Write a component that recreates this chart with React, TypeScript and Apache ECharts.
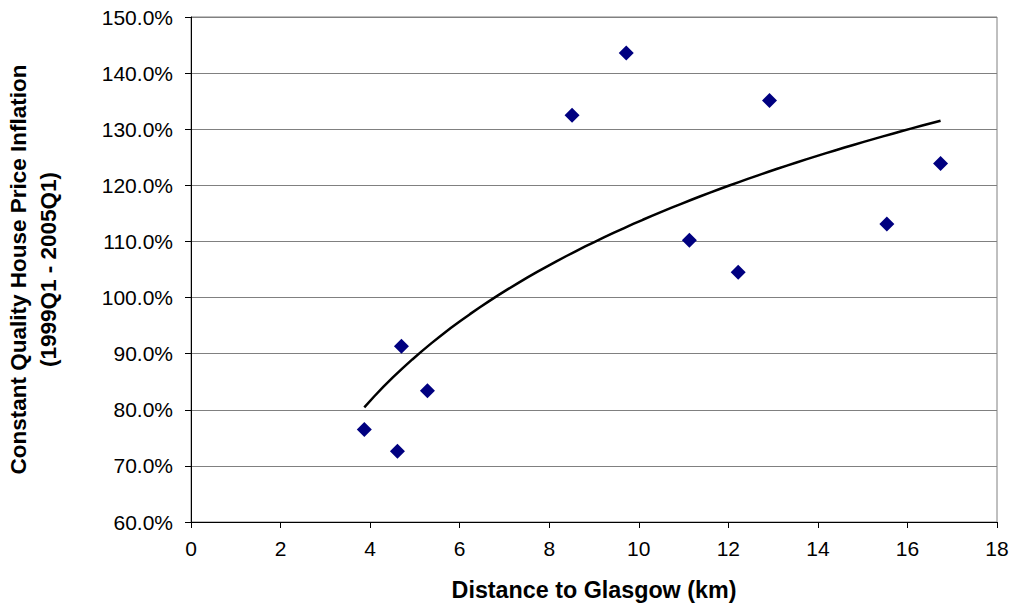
import React, { useEffect, useRef } from "react";
import * as echarts from "echarts";

const distanceKm = [3.87, 4.61, 4.7, 5.28, 8.51, 9.72, 11.13, 12.22, 12.92, 15.54, 16.74];
const inflationPct = [76.5, 72.6, 91.3, 83.4, 132.5, 143.6, 110.2, 104.5, 135.1, 113.1, 123.9];
const xTicks = [0, 2, 4, 6, 8, 10, 12, 14, 16, 18];
const yTicks = [60, 70, 80, 90, 100, 110, 120, 130, 140, 150];

// Logarithmic least-squares trendline fitted to the data (as in the original spreadsheet chart)
function logTrend(xs: number[], ys: number[], steps: number) {
  const lx = xs.map((v) => Math.log(v));
  const n = xs.length;
  const mx = lx.reduce((a, b) => a + b, 0) / n;
  const my = ys.reduce((a, b) => a + b, 0) / n;
  let sxy = 0;
  let sxx = 0;
  for (let i = 0; i < n; i++) {
    sxy += (lx[i] - mx) * (ys[i] - my);
    sxx += (lx[i] - mx) * (lx[i] - mx);
  }
  const b = sxy / sxx;
  const a = my - b * mx;
  const x0 = Math.min(...xs);
  const x1 = Math.max(...xs);
  const pts: number[][] = [];
  for (let i = 0; i <= steps; i++) {
    const x = x0 + ((x1 - x0) * i) / steps;
    pts.push([x, a + b * Math.log(x)]);
  }
  return pts;
}

export default function App() {
  const ref = useRef<HTMLDivElement>(null);
  useEffect(() => {
    if (!ref.current) return;
    const chart = echarts.init(ref.current, null, { renderer: "svg" });
    const font = "'Liberation Sans', Arial, sans-serif";
    chart.setOption({
      animation: false,
      backgroundColor: "#ffffff",
      grid: {
        left: 191,
        right: 16,
        top: 17,
        bottom: 85,
        show: true,
        borderColor: "#808080",
        borderWidth: 1,
        containLabel: false,
        outerBoundsMode: "none",
      },
      xAxis: {
        type: "value",
        min: xTicks[0],
        max: xTicks[xTicks.length - 1],
        interval: 2,
        name: "Distance to Glasgow (km)",
        nameLocation: "middle",
        nameGap: 56,
        nameTextStyle: { fontFamily: font, fontSize: 23.3, fontWeight: "bold", color: "#000", verticalAlign: "top" },
        axisLine: { show: true, onZero: false, lineStyle: { color: "#000", width: 1 } },
        axisTick: { show: true, inside: false, length: 6, lineStyle: { color: "#000" } },
        axisLabel: { fontFamily: font, fontSize: 21, color: "#000", margin: 16 },
        splitLine: { show: false },
      },
      yAxis: {
        type: "value",
        min: yTicks[0],
        max: yTicks[yTicks.length - 1],
        interval: 10,
        name: "Constant Quality House Price Inflation\n(1999Q1 - 2005Q1)",
        nameLocation: "middle",
        nameGap: 128,
        nameTextStyle: {
          fontFamily: font,
          fontSize: 22.5,
          fontWeight: "bold",
          color: "#000",
          lineHeight: 30,
          align: "center",
          verticalAlign: "bottom",
        },
        axisLine: { show: true, lineStyle: { color: "#000", width: 1 } },
        axisTick: { show: true, inside: false, length: 6, lineStyle: { color: "#000" } },
        axisLabel: {
          fontFamily: font,
          fontSize: 21,
          color: "#000",
          margin: 18,
          formatter: (v: number) => v.toFixed(1) + "%",
        },
        splitLine: { show: true, lineStyle: { color: "#808080", width: 1 } },
      },
      series: [
        {
          type: "line",
          data: logTrend(distanceKm, inflationPct, 60),
          showSymbol: false,
          symbol: "none",
          lineStyle: { color: "#000", width: 2.5 },
          z: 2,
        },
        {
          type: "scatter",
          data: distanceKm.map((x, i) => [x, inflationPct[i]]),
          symbol: "diamond",
          symbolSize: [15, 15],
          itemStyle: { color: "#000080", opacity: 1 },
          z: 3,
        },
      ],
    });
    return () => chart.dispose();
  }, []);
  return <div ref={ref} style={{ position: "absolute", left: 0, top: 0, width: 1013, height: 607 }} />;
}
